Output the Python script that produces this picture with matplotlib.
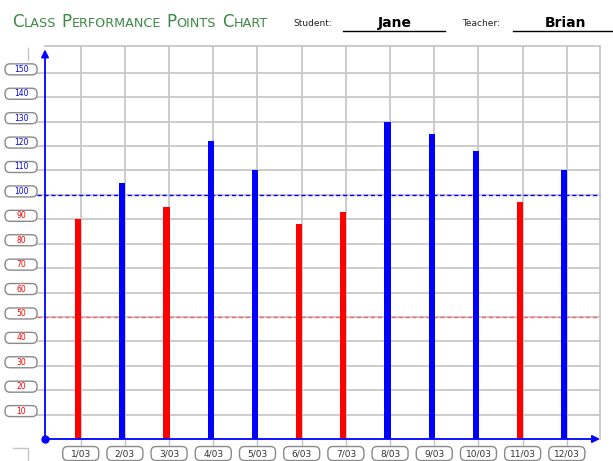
import matplotlib
matplotlib.use("Agg")
import matplotlib.pyplot as plt
import matplotlib.transforms as mtransforms
from matplotlib.patches import FancyBboxPatch
from matplotlib.offsetbox import TextArea, HPacker, AnchoredOffsetbox

# --- data ---
dates = ["1/03", "2/03", "3/03", "4/03", "5/03", "6/03",
         "7/03", "8/03", "9/03", "10/03", "11/03", "12/03"]
points = [90, 105, 95, 122, 110, 88, 93, 130, 125, 118, 97, 110]
y_ticks = [10, 20, 30, 40, 50, 60, 70, 80, 90, 100, 110, 120, 130, 140, 150]
goal_line = 100
min_line = 50
student = "Jane"
teacher = "Brian"

BLUE = "#0000ff"
RED = "#ff0000"
GRID = "#c4c4c4"
GREEN = "#3c8a46"

W, H = 613, 461
fig = plt.figure(figsize=(W / 100, H / 100), dpi=100)
# axes box placed in pixel terms (left 45, bottom axis at y=439, top at y=46)
ax = fig.add_axes([45 / W, 22 / H, 555 / W, 393 / H])

n = len(dates)
xs = list(range(n))
x_left, x_right = -0.808, 11.75
y_top = 161
ax.set_xlim(x_left, x_right)
ax.set_ylim(0, y_top)
ax.set_xticks([])
ax.set_yticks([])
for s in ["left", "bottom"]:
    ax.spines[s].set_visible(False)
for s in ["top", "right"]:
    ax.spines[s].set_color(GRID)
    ax.spines[s].set_linewidth(1.2)

# grid
label_edge = -0.99
for v in y_ticks:
    ax.plot([label_edge, x_right], [v, v], color=GRID, lw=1.2, clip_on=False, zorder=1)
for x in xs:
    ax.plot([x, x], [0, y_top], color=GRID, lw=1.2, zorder=1)
    ax.plot([x, x], [0, -2.9], color=GRID, lw=1.0, clip_on=False, zorder=1)

# goal lines
ax.plot([label_edge, x_right], [goal_line, goal_line], color=BLUE, lw=1.0,
        ls=(0, (3, 2)), clip_on=False, zorder=2)
ax.plot([label_edge, x_right], [min_line, min_line], color="#ff6060", lw=1.0,
        ls=(0, (3, 2)), clip_on=False, zorder=2)

# bars
colors = [BLUE if p >= goal_line else RED for p in points]
ax.bar([x - 0.06 for x in xs], points, width=0.14, color=colors, zorder=3)

# axes arrows + origin dot
ax.annotate("", xy=(x_left, 159.6), xytext=(x_left, 0),
            arrowprops=dict(arrowstyle="-|>", color=BLUE, lw=1.3,
                            mutation_scale=11, shrinkA=0, shrinkB=0),
            annotation_clip=False, zorder=4)
ax.annotate("", xy=(x_right, 0), xytext=(x_left, 0),
            arrowprops=dict(arrowstyle="-|>", color=BLUE, lw=1.3,
                            mutation_scale=11, shrinkA=0, shrinkB=0),
            annotation_clip=False, zorder=4)
ax.plot(x_left, 0, "o", color=BLUE, ms=5, clip_on=False, zorder=5)


def label_box(x, y, w, h, text, color, fs, dy=0.0):
    # rounded box of fixed pixel size centred on a data point
    tr = fig.dpi_scale_trans + mtransforms.ScaledTranslation(x, y, ax.transData)
    box = FancyBboxPatch((-w / 200, -h / 200 + dy / 100), w / 100, h / 100,
                         boxstyle="round,pad=0,rounding_size=0.05",
                         transform=tr, facecolor="white", edgecolor="#8a8a8a",
                         lw=1.0, clip_on=False, zorder=6)
    ax.add_artist(box)
    ax.text(0, dy / 100, text, transform=tr, ha="center", va="center",
            fontsize=fs, color=color, zorder=7, clip_on=False)


# y tick labels
for v in y_ticks:
    label_box(-1.35, v, 32, 11, str(v), BLUE if v >= goal_line else RED, 5.5, dy=3.5)

# x tick labels
for x, d in zip(xs, dates):
    label_box(x, -5.95, 36, 14, d, "#333333", 6.5)

# title in small caps
def word(first, rest):
    return HPacker(children=[TextArea(first, textprops=dict(fontsize=12, color=GREEN)),
                             TextArea(rest, textprops=dict(fontsize=9.2, color=GREEN))],
                   align="baseline", pad=0, sep=0)

title = HPacker(children=[word("C", "LASS"), word("P", "ERFORMANCE"),
                          word("P", "OINTS"), word("C", "HART")],
                align="baseline", pad=0, sep=4)
fig.add_artist(AnchoredOffsetbox(loc="center left", child=title, pad=0, borderpad=0,
                                 frameon=False, bbox_to_anchor=(12 / W, 1 - 22 / H),
                                 bbox_transform=fig.transFigure))

# student / teacher fields
fig.text(293 / W, 1 - 24 / H, "Student:", fontsize=6.5, color="#222222", va="center")
fig.add_artist(plt.Line2D([343 / W, 445 / W], [1 - 31 / H, 1 - 31 / H],
                          transform=fig.transFigure, color="black", lw=1))
fig.text(395 / W, 1 - 23 / H, student, fontsize=10, fontweight="bold",
         ha="center", va="center", color="black")
fig.text(462 / W, 1 - 24 / H, "Teacher:", fontsize=6.5, color="#222222", va="center")
fig.add_artist(plt.Line2D([513 / W, 613 / W], [1 - 31 / H, 1 - 31 / H],
                          transform=fig.transFigure, color="black", lw=1))
fig.text(565 / W, 1 - 23 / H, teacher, fontsize=10, fontweight="bold",
         ha="center", va="center", color="black")

# small corner marks
fig.add_artist(plt.Line2D([28 / W, 28 / W], [1 - 48 / H, 1 - 60 / H],
                          transform=fig.transFigure, color=GRID, lw=1))
fig.add_artist(plt.Line2D([13 / W, 28 / W, 28 / W], [1 - 448 / H, 1 - 448 / H, 0],
                          transform=fig.transFigure, color=GRID, lw=1))

fig.savefig("out.png", dpi=100)
